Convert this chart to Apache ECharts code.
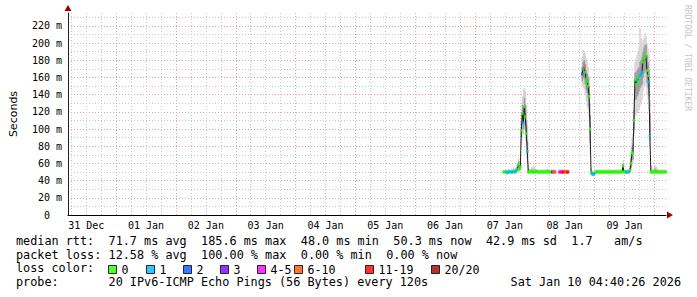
<!DOCTYPE html>
<html><head><meta charset="utf-8">
<script src="https://cdn.jsdelivr.net/npm/echarts@6/dist/echarts.min.js"></script>
<style>html,body{margin:0;padding:0;background:#fff}#c{width:697px;height:297px}</style>
</head><body><div id="c"></div>
<script>
// ---- axis / tick data (hours since 31 Dec 00:00) ----
const dayLabels = ['31 Dec','01 Jan','02 Jan','03 Jan','04 Jan','05 Jan','06 Jan','07 Jan','08 Jan','09 Jan'];
const dayNoons = [12,36,60,84,108,132,156,180,204,228];
const midnights = [24,48,72,96,120,144,168,192,216,240];
const sixHours = [6,12,18,24,30,36,42,48,54,60,66,72,78,84,90,96,102,108,114,120,126,132,138,144,150,156,162,168,174,180,186,192,198,204,210,216,222,228,234,240];
const xStart = 4.674;   // 31 Dec 04:40:26
const xEnd = 244.674;   // 10 Jan 04:40:26
const yTickStep = 20;

// ---- samples: one every 24 min starting 07 Jan 11:24 ----
const startHour = 179.4;
const stepHours = 0.4;

// median rtt (ms)
const median = [
 50,50,50,50,49,50,50,50,50,50,
 51,50,50,52,53,58,54,56,98,118,
 107,126,114,95,74,50,50,50,51,50,
 50,50,50,51,50,50,50,50,50,50,
 50,50,50,50,51,50,50,50,50,
 50,50,50,50,null,null,null,
 50,50,50,50,50,50,50,50,50,50,
 null,null,null,null,null,null,null,null,null,null,null,null,null,
 164,170,171,166,158,155,150,138,100,49,
 48,47,48,49,
 50,50,50,50,50,50,50,50,50,50,50,50,50,50,50,50,50,50,50,50,50,50,50,50,50,50,50,
 57,50,50,50,50,50,50,52,60,72,
 72,110,157,152,157,156,160,162,163,166,
 178,182,184,186,168,162,155,92,50,
 50,50,50,50,50,50,50,50,50,50,50,50,50,50,50
];
// loss category index (0:"0",1:"1",2:"2",3:"3",4:"4-5",5:"6-10",6:"11-19",7:"20/20")
const loss = [
 0,0,0,1,0,1,1,0,1,1,
 0,1,0,1,0,0,0,0,0,0,
 1,0,0,0,1,0,0,0,0,0,
 0,0,0,0,0,0,0,0,0,0,
 0,0,0,0,0,0,0,0,0,
 3,5,5,5,null,null,null,
 4,4,4,6,6,5,5,5,6,6,
 null,null,null,null,null,null,null,null,null,null,null,null,null,
 2,1,5,0,0,0,0,0,0,0,
 1,1,1,0,
 0,0,0,0,0,0,0,0,0,0,0,0,0,0,0,0,0,0,0,0,0,0,0,0,0,0,0,
 0,0,0,1,1,0,1,0,0,0,
 0,0,0,0,1,0,0,1,1,1,
 0,0,0,0,0,0,1,1,0,
 0,0,0,0,0,0,0,0,0,0,0,0,0,0,0
];
// smoke (ping distribution) : min, lower, upper, max
const smokeMin = [
 49,49,49,48,48,49,49,49,49,49,
 49,49,49,49,50,51,50,51,82,96,
 94,100,94,80,60,49,49,49,49,49,
 49,49,49,49,49,49,49,49,49,49,
 49,49,49,49,49,49,49,49,49,
 49,49,49,49,null,null,null,
 49,49,49,49,49,49,49,49,49,49,
 null,null,null,null,null,null,null,null,null,null,null,null,null,
 150,148,146,140,132,126,122,114,70,47,
 46,46,46,48,
 49,49,49,49,49,49,49,49,49,49,49,49,49,49,49,49,49,49,49,49,49,49,49,49,49,49,49,
 50,49,49,49,49,49,49,49,52,58,
 60,92,118,115,118,120,124,128,130,134,
 144,150,152,150,140,134,122,78,48,
 49,49,49,49,49,49,49,49,49,49,49,49,49,49,49
];
const smokeLo = [
 49.5,49.5,49.5,49.5,48.5,49.5,49.5,49.5,49.5,49.5,
 50,49.5,49.5,50,51,54,52,53,90,106,
 100,112,104,86,66,50,49.5,49.5,50,49.5,
 49.5,49.5,49.5,49.5,49.5,49.5,49.5,49.5,49.5,49.5,
 49.5,49.5,49.5,49.5,49.5,49.5,49.5,49.5,49.5,
 49.5,49.5,49.5,49.5,null,null,null,
 49.5,49.5,49.5,49.5,49.5,49.5,49.5,49.5,49.5,49.5,
 null,null,null,null,null,null,null,null,null,null,null,null,null,
 156,160,158,152,146,142,136,126,84,48,
 47,46.5,47,48.5,
 49.5,49.5,49.5,49.5,49.5,49.5,49.5,49.5,49.5,49.5,49.5,49.5,49.5,49.5,49.5,49.5,49.5,49.5,49.5,49.5,49.5,49.5,49.5,49.5,49.5,49.5,49.5,
 52,49.5,49.5,49.5,49.5,49.5,49.5,50,55,64,
 65,100,134,134,138,140,144,148,150,152,
 160,165,168,168,154,148,138,88,49.5,
 49.5,49.5,49.5,49.5,49.5,49.5,49.5,49.5,49.5,49.5,49.5,49.5,49.5,49.5,49.5
];
const smokeHi = [
 50.8,50.8,50.8,51,50,51,51,50.8,51,51,
 52,51,51,54,56,62,58,62,108,128,
 125,136,128,110,86,54,51,51,53,52,
 52,53,51,51,51,51,51,51,51,51,
 51,51,51,51,51,51,51,51,51,
 51,51,51,51,null,null,null,
 51,51,51,51,51,51,51,51,51,51,
 null,null,null,null,null,null,null,null,null,null,null,null,null,
 172,178,180,176,168,164,160,150,116,51,
 50,49,50,50,
 51,51,51,51,51,51,51,51,51,51,51,51,51,51,51,51,51,51,51,51,51,51,51,51,51,51,51,
 60,51,51,51,51,51,51,55,66,80,
 82,122,166,165,168,170,172,178,180,184,
 190,195,198,198,186,178,168,118,53,
 51,51,52,54,53,52,51,51,51,51,51,51,51,51,51
];
const smokeMax = [
 52,52,52,53,52,54,53,52,54,53,
 55,54,55,58,60,66,63,70,120,138,
 146,148,144,128,104,62,53,53,56,55,
 57,56,54,53,53,53,53,53,53,53,
 53,53,53,53,53,53,53,53,53,
 53,53,53,53,null,null,null,
 53,53,53,53,53,53,53,53,53,53,
 null,null,null,null,null,null,null,null,null,null,null,null,null,
 184,192,190,188,182,178,172,162,130,55,
 52,51,52,52,
 53,53,53,53,53,53,53,53,53,53,53,53,53,53,53,53,53,53,53,53,53,53,53,53,53,53,53,
 64,53,53,53,53,53,53,60,72,90,
 94,136,178,182,186,190,196,217,206,200,
 204,206,212,208,200,194,186,134,58,
 53,54,56,58,57,55,53,53,53,53,53,53,53,53,53
];

const lossNames = ['0','1','2','3','4-5','6-10','11-19','20/20'];
const lossColors = ['#26ff00','#00b8ff','#0059ff','#7e00ff','#ff00ff','#ff5500','#ff0000','#a10000'];

const statRows = [
  [['median rtt:',0],['71.7 ms avg',13],['185.6 ms max',26],['48.0 ms min',40],['50.3 ms now',53],['42.9 ms sd',66],['1.7',78],['am/s',84]],
  [['packet loss:',0],['12.58 % avg',13],['100.00 % max',26],['0.00 % min',40],['0.00 % now',52]],
  [['loss color:',0]],
  [['probe:',0],['20 IPv6-ICMP Echo Pings (56 Bytes) every 120s',13]]
];
const stamp = 'Sat Jan 10 04:40:26 2026';
const watermark = 'RRDTOOL / TOBI OETIKER';

// ---- build ----
const mono = 'DejaVu Sans Mono';
const times = median.map((_, i) => startHour + i * stepHours);

function smokeSeries(lowArr, highArr, color) {
  const data = [];
  times.forEach((t, i) => { if (lowArr[i] != null && highArr[i] != null) data.push([t, lowArr[i], highArr[i]]); });
  return {
    type: 'custom', data, silent: true, z: 1, encode: { x: 0, y: [1, 2] },
    renderItem: (params, api) => {
      const t = api.value(0);
      const pLo = api.coord([t, api.value(1)]);
      const pHi = api.coord([t, api.value(2)]);
      const w = api.size([stepHours, 0])[0];
      return { type: 'rect', shape: { x: pLo[0] - w / 2, y: pHi[1], width: w + 0.4, height: Math.max(0.5, pLo[1] - pHi[1]) },
        style: { fill: color } };
    }
  };
}

const series = [
  smokeSeries(smokeMin, smokeMax, '#d4d4d4'),
  smokeSeries(smokeLo, smokeHi, '#999999'),
  { type: 'line', data: times.map((t, i) => [t, median[i]]), symbol: 'none', showSymbol: false,
    lineStyle: { color: '#202020', width: 1 }, silent: true, z: 2, connectNulls: false }
];
lossNames.forEach((n, k) => {
  const pts = [];
  times.forEach((t, i) => { if (loss[i] === k && median[i] != null) pts.push([t, median[i]]); });
  series.push({ type: 'scatter', name: n, data: pts, symbol: 'rect', symbolSize: [2.4, 3],
    itemStyle: { color: lossColors[k] }, silent: true, z: 3 });
});

const legendLefts = [108, 146, 183, 220, 257, 294, 365, 431];
const legends = lossNames.map((n, k) => ({
  data: [n], left: legendLefts[k], top: 263.5, padding: 0, itemGap: 0,
  itemWidth: 8, itemHeight: 8, icon: 'rect', selectedMode: false,
  itemStyle: { borderColor: '#000', borderWidth: 1 },
  textStyle: { fontFamily: mono, fontSize: 11.6, color: '#000' }
}));

const cw = 7.12;
const rowY = [240.5, 254.5, 268, 282];
const graphics = [];
statRows.forEach((row, r) => row.forEach(([txt, col]) => graphics.push({
  type: 'text', x: 16 + col * cw, y: rowY[r], silent: true,
  style: { text: txt, font: '11.8px "' + mono + '"', fill: '#000', textAlign: 'left', textVerticalAlign: 'middle' }
})));
graphics.push({ type: 'text', x: 681, y: rowY[3], silent: true,
  style: { text: stamp, font: '11.8px "' + mono + '"', fill: '#000', textAlign: 'right', textVerticalAlign: 'middle' } });
graphics.push({ type: 'text', x: 687, y: 5, rotation: -Math.PI / 2, silent: true,
  style: { text: watermark, font: '8px "' + mono + '"', fill: '#c4c4c4', textAlign: 'left', textVerticalAlign: 'middle' } });

const baseX = { type: 'value', min: xStart, max: xEnd, position: 'bottom', axisLabel: { show: false },
  axisTick: { show: false }, splitLine: { show: false }, axisLine: { show: false, onZero: false } };

const option = {
  animation: false,
  backgroundColor: '#fff',
  grid: { left: 66, right: 31, top: 13, bottom: 82, containLabel: false },
  legend: legends,
  xAxis: [
    Object.assign({}, baseX, { axisLine: { show: true, onZero: false, lineStyle: { color: '#000', width: 1 } } }),
    Object.assign({}, baseX, { axisTick: { show: false, customValues: sixHours },
      splitLine: { show: true, lineStyle: { color: '#c8c8c8', type: [1, 2], width: 1 } } }),
    Object.assign({}, baseX, { axisTick: { show: false, customValues: midnights },
      splitLine: { show: true, lineStyle: { color: '#eaa0a0', type: [1, 2], width: 1 } } }),
    Object.assign({}, baseX, {
      axisTick: { show: false, customValues: dayNoons },
      axisLabel: { show: true, customValues: dayNoons, margin: 5,
        formatter: v => dayLabels[dayNoons.indexOf(Math.round(v))] || '',
        fontFamily: mono, fontSize: 10, color: '#000' } }),
    Object.assign({}, baseX, { axisLine: { show: true, onZero: false, symbol: ['none', 'triangle'],
      symbolSize: [7, 6], symbolOffset: [0, 4], lineStyle: { color: '#a00000', width: 0 } } })
  ],
  yAxis: [
    { type: 'value', min: 0, max: 235, interval: yTickStep, position: 'left',
      name: 'Seconds', nameLocation: 'middle', nameGap: 49, nameRotate: 90,
      nameTextStyle: { fontFamily: 'DejaVu Sans', fontSize: 11, color: '#000' },
      axisLine: { show: true, onZero: false, lineStyle: { color: '#222', width: 1 } },
      axisTick: { show: false },
      axisLabel: { margin: 6, fontFamily: mono, fontSize: 10, color: '#000', showMaxLabel: false,
        formatter: v => v === 0 ? '0\u00a0\u00a0' : v + ' m' },
      splitLine: { show: true, showMaxLine: false, lineStyle: { color: '#eaa0a0', type: [1, 2], width: 1 } },
      minorTick: { show: false, splitNumber: 2 },
      minorSplitLine: { show: true, lineStyle: { color: '#c8c8c8', type: [1, 2], width: 1 } } },
    { type: 'value', min: 0, max: 235, position: 'left', axisLabel: { show: false },
      axisTick: { show: false }, splitLine: { show: false },
      axisLine: { show: true, onZero: false, symbol: ['none', 'triangle'], symbolSize: [7, 6],
        symbolOffset: [0, 5], lineStyle: { color: '#a00000', width: 0 } } }
  ],
  series,
  graphic: graphics
};

const chart = echarts.init(document.getElementById('c'), null, { renderer: 'svg', width: 697, height: 297 });
chart.setOption(option);
</script>
</body></html>
